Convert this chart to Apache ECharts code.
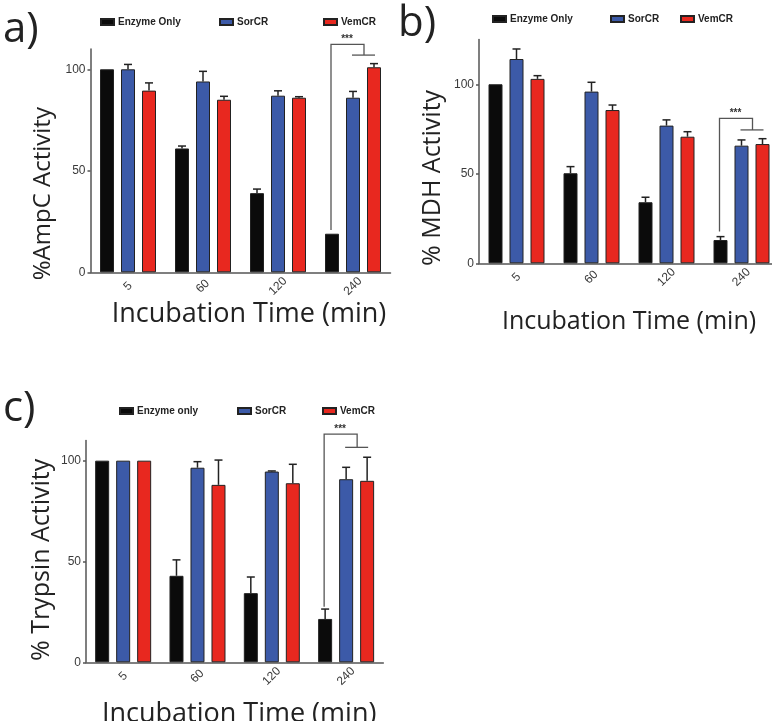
<!DOCTYPE html>
<html>
<head>
<meta charset="utf-8">
<title>Enzyme activity</title>
<script src="https://cdn.jsdelivr.net/npm/echarts@6.0.0/dist/echarts.min.js"></script>
<style>
html, body { margin: 0; padding: 0; background: #fff; }
#main { width: 772px; height: 721px; }
</style>
</head>
<body>
<div id="main"></div>
<script>
// categories (incubation time, min)
var times = ['5', '60', '120', '240'];

// a) AmpC
var ampcEnzyme = [100, 61, 39, 19];
var ampcEnzymeErr = [0, 1.2, 2, 0];
var ampcSor = [100, 94, 87, 86];
var ampcSorErr = [2.4, 5, 2.4, 3.1];
var ampcVem = [89.5, 85, 86, 101];
var ampcVemErr = [3.8, 1.7, 0.5, 1.8];
var ampcBracket = [20.8, 112.3, 107];   // bottom, top, drop (value units)

// b) MDH
var mdhEnzyme = [100, 50.3, 34.1, 13];
var mdhEnzymeErr = [0, 3.7, 2.8, 1.9];
var mdhSor = [114.1, 95.9, 76.9, 65.7];
var mdhSorErr = [5.6, 5.2, 3.2, 3.2];
var mdhVem = [103, 85.6, 70.7, 66.6];
var mdhVemErr = [1.8, 2.8, 2.8, 3];
var mdhBracket = [17.7, 81, 74.5];

// c) Trypsin
var tryEnzyme = [100, 42.9, 34.3, 21.5];
var tryEnzymeErr = [0, 7.9, 8, 4.9];
var trySor = [100, 96.5, 94.6, 90.8];
var trySorErr = [0, 3, 0.3, 5.9];
var tryVem = [100, 88, 88.8, 90];
var tryVemErr = [0, 12.3, 9.4, 11.7];
var tryBracket = [27.6, 113.2, 106.6];

var yTicks = [0, 50, 100];

var BLACK = '#0b0b0b', BLUE = '#3c5aa8', RED = '#e8281f';
var FONT = 'Liberation Sans';
var NAMEFONT = 'Open Sans';

var myChart = echarts.init(document.getElementById('main'));

function barSeries(gi, name, vals, color) {
    return {
        type: 'bar',
        name: name,
        xAxisIndex: gi,
        yAxisIndex: gi,
        data: vals,
        barWidth: 14,
        barGap: '50%',
        itemStyle: { color: color, borderColor: '#222', borderWidth: 1 },
        z: 2
    };
}

// error bars: only the upper half, GraphPad style
function errSeries(gi, vals, errs, off) {
    return {
        type: 'custom',
        xAxisIndex: gi,
        yAxisIndex: gi,
        silent: true,
        z: 3,
        data: vals.map(function (v, i) { return [i, v, v + errs[i]]; }),
        renderItem: function (params, api) {
            if (api.value(2) <= api.value(1)) return null;
            var lo = api.coord([api.value(0), api.value(1)]);
            var hi = api.coord([api.value(0), api.value(2)]);
            var x = lo[0] + off;
            var st = { stroke: '#222', lineWidth: 1.5 };
            return {
                type: 'group',
                children: [
                    { type: 'line', shape: { x1: x, y1: lo[1], x2: x, y2: hi[1] }, style: st },
                    { type: 'line', shape: { x1: x - 4, y1: hi[1], x2: x + 4, y2: hi[1] }, style: st }
                ]
            };
        }
    };
}

// *** bracket at the 240 min group
function bracketSeries(gi, b) {
    return {
        type: 'custom',
        xAxisIndex: gi,
        yAxisIndex: gi,
        silent: true,
        clip: false,
        z: 4,
        data: [[3, b[0], b[1], b[2]]],
        renderItem: function (params, api) {
            var bot = api.coord([api.value(0), api.value(1)]);
            var top = api.coord([api.value(0), api.value(2)]);
            var drop = api.coord([api.value(0), api.value(3)]);
            var c = bot[0];
            var st = { stroke: '#555', lineWidth: 1.3, fill: null };
            return {
                type: 'group',
                children: [
                    { type: 'polyline', shape: { points: [[c - 22, bot[1]], [c - 22, top[1]], [c + 11, top[1]], [c + 11, drop[1]]] }, style: st },
                    { type: 'line', shape: { x1: c - 1, y1: drop[1], x2: c + 22, y2: drop[1] }, style: st },
                    { type: 'text', style: { text: '***', x: c - 6, y: top[1] - 5, align: 'center', verticalAlign: 'middle', fontSize: 10, fontWeight: 'bold', fontFamily: FONT, fill: '#333' } }
                ]
            };
        }
    };
}

function legendItem(name, left, top) {
    return {
        data: [name],
        left: left,
        top: top,
        padding: 0,
        itemWidth: 13,
        itemHeight: 6,
        itemGap: 0,
        selectedMode: false,
        icon: 'rect',
        textStyle: { fontSize: 10, fontWeight: 'bold', color: '#222', fontFamily: FONT, padding: [0, 0, 0, -1] }
    };
}

function xAxisFor(gi, nameSize, nameGap, namePadLeft) {
    return {
        type: 'category',
        gridIndex: gi,
        data: times,
        name: 'Incubation Time (min)',
        nameLocation: 'middle',
        nameGap: nameGap,
        nameTextStyle: { fontSize: nameSize, fontFamily: NAMEFONT, color: '#222', padding: [0, 0, 0, namePadLeft] },
        axisLine: { lineStyle: { color: '#555', width: 1.5 } },
        axisTick: { alignWithLabel: true, length: 3, lineStyle: { color: '#555', width: 1.5 } },
        axisLabel: { rotate: 45, align: 'center', verticalAlign: 'middle', margin: 14, fontSize: 12, color: '#3a3a3a', fontFamily: FONT },
        splitLine: { show: false }
    };
}

function yAxisFor(gi, name, max, nameSize, nameGap, namePadRight) {
    return {
        type: 'value',
        gridIndex: gi,
        min: 0,
        max: max,
        name: name,
        nameLocation: 'middle',
        nameGap: nameGap,
        nameTextStyle: { fontSize: nameSize, fontFamily: NAMEFONT, color: '#222', padding: [0, namePadRight, 0, 0] },
        axisLine: { show: true, lineStyle: { color: '#555', width: 1.5 } },
        axisTick: { show: true, length: 3, customValues: yTicks, lineStyle: { color: '#555', width: 1.5 } },
        axisLabel: { customValues: yTicks, margin: 5, fontSize: 12, color: '#3a3a3a', fontFamily: FONT },
        splitLine: { show: false }
    };
}

var labelStyle = { fontSize: 42, fontWeight: 'normal', fontFamily: NAMEFONT, color: '#222' };

var option = {
    animation: false,
    backgroundColor: '#fff',
    title: [
        { text: 'a)', left: 3, top: 9, padding: 0, textStyle: labelStyle },
        { text: 'b)', left: 398, top: 3, padding: 0, textStyle: labelStyle },
        { text: 'c)', left: 3, top: 388, padding: 0, textStyle: labelStyle }
    ],
    legend: [
        legendItem('Enzyme Only', 100, 17),
        legendItem('SorCR', 219, 17),
        legendItem('VemCR', 323, 17),
        legendItem('Enzyme Only', 492, 14),
        legendItem('SorCR', 610, 14),
        legendItem('VemCR', 680, 14),
        legendItem('Enzyme only', 119, 406),
        legendItem('SorCR', 237, 406),
        legendItem('VemCR', 322, 406)
    ],
    grid: [
        { left: 90.5, top: 49, width: 300, height: 223.3, outerBoundsMode: 'none' },
        { left: 479, top: 39.5, width: 300, height: 223.8, outerBoundsMode: 'none' },
        { left: 86, top: 440.5, width: 297.3, height: 221.8, outerBoundsMode: 'none' }
    ],
    xAxis: [
        xAxisFor(0, 27, 22, 17),
        xAxisFor(1, 25, 46, 0),
        xAxisFor(2, 27, 39, 9)
    ],
    yAxis: [
        yAxisFor(0, '%AmpC Activity', 110, 24, 35, 66),
        yAxisFor(1, '% MDH Activity', 125, 25, 34, 53),
        yAxisFor(2, '% Trypsin Activity', 110, 25, 32, 17)
    ],
    series: [
        barSeries(0, 'Enzyme Only', ampcEnzyme, BLACK),
        barSeries(0, 'SorCR', ampcSor, BLUE),
        barSeries(0, 'VemCR', ampcVem, RED),
        errSeries(0, ampcEnzyme, ampcEnzymeErr, -21),
        errSeries(0, ampcSor, ampcSorErr, 0),
        errSeries(0, ampcVem, ampcVemErr, 21),
        bracketSeries(0, ampcBracket),

        barSeries(1, 'Enzyme Only', mdhEnzyme, BLACK),
        barSeries(1, 'SorCR', mdhSor, BLUE),
        barSeries(1, 'VemCR', mdhVem, RED),
        errSeries(1, mdhEnzyme, mdhEnzymeErr, -21),
        errSeries(1, mdhSor, mdhSorErr, 0),
        errSeries(1, mdhVem, mdhVemErr, 21),
        bracketSeries(1, mdhBracket),

        barSeries(2, 'Enzyme only', tryEnzyme, BLACK),
        barSeries(2, 'SorCR', trySor, BLUE),
        barSeries(2, 'VemCR', tryVem, RED),
        errSeries(2, tryEnzyme, tryEnzymeErr, -21),
        errSeries(2, trySor, trySorErr, 0),
        errSeries(2, tryVem, tryVemErr, 21),
        bracketSeries(2, tryBracket)
    ]
};

myChart.setOption(option);
</script>
</body>
</html>
